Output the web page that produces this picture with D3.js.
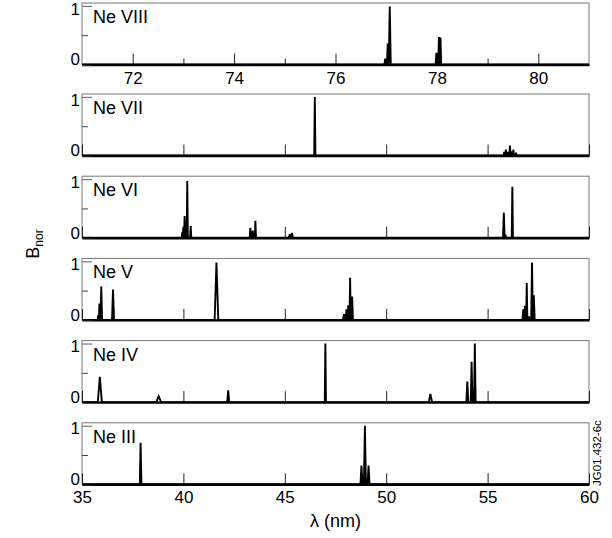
<!DOCTYPE html>
<html>
<head>
<meta charset="utf-8">
<script src="https://cdn.jsdelivr.net/npm/d3@7/dist/d3.min.js"></script>
<style>
  html, body { margin: 0; padding: 0; background: #fff; }
  svg { display: block; }
  text { font-family: "Liberation Sans", Arial, Helvetica, sans-serif; fill: #000; }
</style>
</head>
<body>
<svg id="chart" width="612" height="538"></svg>
<script>
// Ion panels, top to bottom
const ions = ["Ne VIII", "Ne VII", "Ne VI", "Ne V", "Ne IV", "Ne III"];

// Wavelength ranges (nm)
const rangeNeVIII = [71, 81];
const rangeLow = [35, 60];

// Tick values
const ticksNeVIIIMajor = [72, 74, 76, 78, 80];
const ticksNeVIIIMinor = [73, 75, 77, 79];
const ticksLow = [35, 40, 45, 50, 55, 60];
const ticksY = [0, 1];
const ticksYMinor = [0.5];

// Line lists: wavelength (nm), normalised brightness, half-width (nm)
const neVIIIWave  = [76.98, 77.03, 77.07, 77.99, 78.04, 78.07];
const neVIIIInt   = [0.10, 0.36, 0.99, 0.20, 0.47, 0.46];
const neVIIIWidth = [0.015, 0.015, 0.02, 0.015, 0.015, 0.015];

const neVIIWave  = [46.48, 55.82, 55.9, 55.98, 56.1, 56.18, 56.27, 56.4];
const neVIIInt   = [1.00, 0.06, 0.10, 0.06, 0.17, 0.07, 0.10, 0.05];
const neVIIWidth = [0.03, 0.03, 0.03, 0.03, 0.03, 0.03, 0.03, 0.03];

const neVIWave  = [39.95, 40.0, 40.06, 40.1, 40.19, 40.36, 43.3, 43.42, 43.55, 45.25, 45.35, 55.8, 55.88, 56.22];
const neVIInt   = [0.10, 0.18, 0.37, 0.25, 0.97, 0.20, 0.17, 0.12, 0.29, 0.06, 0.08, 0.43, 0.05, 0.87];
const neVIWidth = [0.03, 0.03, 0.03, 0.03, 0.03, 0.03, 0.03, 0.03, 0.03, 0.05, 0.05, 0.04, 0.03, 0.03];

const neVWave  = [35.8, 35.86, 35.95, 36.53, 41.63, 47.92, 48.04, 48.13, 48.22, 48.32, 56.76, 56.84, 56.93, 57.04, 57.19, 57.28];
const neVInt   = [0.08, 0.28, 0.57, 0.52, 0.98, 0.10, 0.18, 0.25, 0.72, 0.40, 0.18, 0.24, 0.63, 0.06, 0.98, 0.42];
const neVWidth = [0.03, 0.03, 0.04, 0.05, 0.09, 0.05, 0.04, 0.03, 0.03, 0.04, 0.04, 0.03, 0.03, 0.03, 0.04, 0.04];

const neIVWave  = [35.88, 38.78, 42.21, 47.0, 52.18, 54.0, 54.21, 54.37];
const neIVInt   = [0.43, 0.10, 0.20, 1.00, 0.14, 0.35, 0.69, 1.00];
const neIVWidth = [0.10, 0.12, 0.05, 0.03, 0.08, 0.05, 0.04, 0.04];

const neIIIWave  = [37.89, 48.78, 48.95, 49.13];
const neIIIInt   = [0.71, 0.32, 1.00, 0.32];
const neIIIWidth = [0.04, 0.05, 0.05, 0.05];

const spectra = [
  { wave: neVIIIWave, int: neVIIIInt, width: neVIIIWidth, domain: rangeNeVIII },
  { wave: neVIIWave,  int: neVIIInt,  width: neVIIWidth,  domain: rangeLow },
  { wave: neVIWave,   int: neVIInt,   width: neVIWidth,   domain: rangeLow },
  { wave: neVWave,    int: neVInt,    width: neVWidth,    domain: rangeLow },
  { wave: neIVWave,   int: neIVInt,   width: neIVWidth,   domain: rangeLow },
  { wave: neIIIWave,  int: neIIIInt,  width: neIIIWidth,  domain: rangeLow }
];

const svg = d3.select("#chart");
const left = 82, right = 589, panelH = 61.5;
const tops = ions.map((d, i) => i === 0 ? 3 : 94 + (i - 1) * 82.2);
const fontSize = 17;

// Turn a line list into a polyline of triangular profiles on a zero baseline
function profile(s) {
  const pts = [[s.domain[0], 0]];
  const order = d3.range(s.wave.length).sort((a, b) => s.wave[a] - s.wave[b]);
  order.forEach(i => {
    pts.push([s.wave[i] - s.width[i], 0]);
    pts.push([s.wave[i], s.int[i]]);
    pts.push([s.wave[i] + s.width[i], 0]);
  });
  pts.push([s.domain[1], 0]);
  return pts;
}

ions.forEach((ion, i) => {
  const s = spectra[i];
  const top = tops[i], bottom = top + panelH;
  const x = d3.scaleLinear().domain(s.domain).range([left, right]);
  const y = d3.scaleLinear().domain([0, 1.05]).range([bottom, top]);
  const g = svg.append("g");

  // frame
  g.append("rect")
    .attr("x", left).attr("y", top)
    .attr("width", right - left).attr("height", panelH)
    .attr("fill", "none").attr("stroke", "#777").attr("stroke-width", 1);

  // clip region
  const clipId = "clip" + i;
  svg.append("clipPath").attr("id", clipId)
    .append("rect").attr("x", left).attr("y", top - 1)
    .attr("width", right - left).attr("height", panelH + 3);

  // x axis (ticks point into the plot)
  const isTop = i === 0, isBottom = i === ions.length - 1;
  const majorTicks = isTop ? ticksNeVIIIMajor : ticksLow;
  const xAxis = d3.axisBottom(x)
    .tickValues(majorTicks)
    .tickSizeInner(-11).tickSizeOuter(0).tickPadding(7)
    .tickFormat((isTop || isBottom) ? d3.format("d") : () => "");
  const gx = g.append("g").attr("transform", `translate(0,${bottom})`).call(xAxis);
  gx.select(".domain").attr("stroke", "#000").attr("stroke-width", 2.4);
  gx.selectAll(".tick line").attr("stroke", "#222").attr("stroke-width", 1);
  gx.selectAll(".tick text").attr("font-size", fontSize)
    .style("font-family", "'Liberation Sans', Arial, sans-serif");

  if (isTop) {
    const gm = g.append("g").attr("transform", `translate(0,${bottom})`)
      .call(d3.axisBottom(x).tickValues(ticksNeVIIIMinor).tickSizeInner(-6).tickSizeOuter(0).tickFormat(() => ""));
    gm.select(".domain").remove();
    gm.selectAll(".tick line").attr("stroke", "#222").attr("stroke-width", 1);
  }

  // y axis
  const gy = g.append("g").attr("transform", `translate(${left},0)`)
    .call(d3.axisLeft(y).tickValues(ticksY).tickSizeInner(-10).tickSizeOuter(0).tickPadding(2).tickFormat(d3.format("d")));
  gy.select(".domain").remove();
  gy.selectAll(".tick line").attr("stroke", "#777").attr("stroke-width", 1.2);
  gy.selectAll(".tick text").attr("font-size", fontSize)
    .style("font-family", "'Liberation Sans', Arial, sans-serif")
    .attr("dy", d => d === 0 ? "0.02em" : "0.48em");
  const gy2 = g.append("g").attr("transform", `translate(${left},0)`)
    .call(d3.axisLeft(y).tickValues(ticksYMinor).tickSizeInner(-6).tickSizeOuter(0).tickFormat(() => ""));
  gy2.select(".domain").remove();
  gy2.selectAll(".tick line").attr("stroke", "#444").attr("stroke-width", 1);

  // spectrum
  const line = d3.line().x(d => x(d[0])).y(d => y(d[1]));
  g.append("path")
    .attr("clip-path", `url(#${clipId})`)
    .attr("d", line(profile(s)))
    .attr("fill", "none").attr("stroke", "#000")
    .attr("stroke-width", 1.9).attr("stroke-linejoin", "miter").attr("stroke-miterlimit", 3);

  // ion label
  g.append("text")
    .attr("x", left + 11).attr("y", top + 20)
    .attr("font-size", 18)
    .text(ion);
});

// axis titles
svg.append("text")
  .attr("x", (left + right) / 2).attr("y", 527)
  .attr("text-anchor", "middle").attr("font-size", 18)
  .text("λ (nm)");

const yl = svg.append("text")
  .attr("transform", "translate(39,244) rotate(-90)")
  .attr("text-anchor", "middle").attr("font-size", 18);
yl.append("tspan").text("B");
yl.append("tspan").attr("font-size", 12).attr("dy", 4).text("nor");

svg.append("text")
  .attr("transform", `translate(${right + 12},486) rotate(-90)`)
  .attr("font-size", 11.5)
  .text("JG01.432-6c");
</script>
</body>
</html>
